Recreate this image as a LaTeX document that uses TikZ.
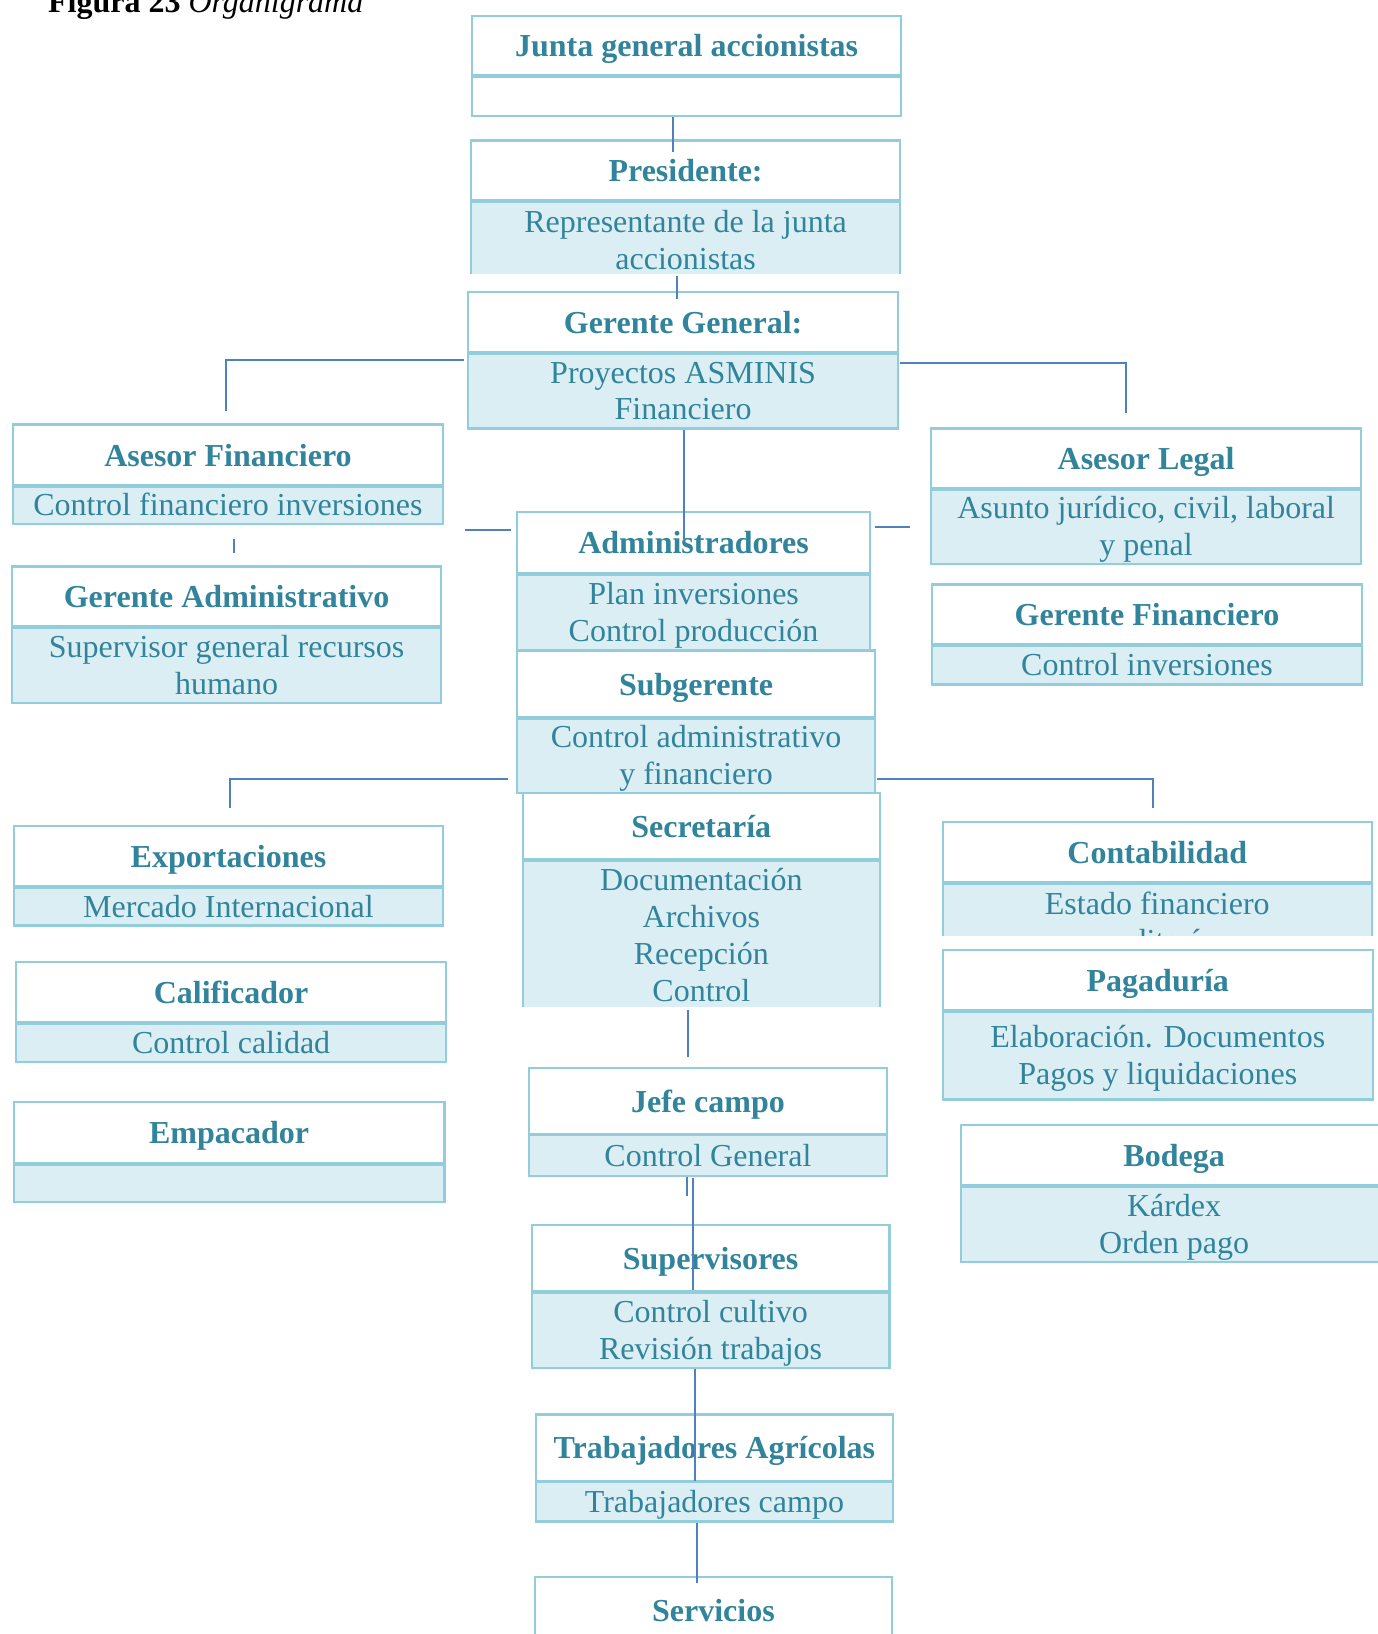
\documentclass[tikz,border=0pt]{standalone}
\usepackage{fontspec}
\setmainfont{Liberation Serif}
\usepackage{tikz}
\usetikzlibrary{positioning}

\definecolor{texto}{HTML}{31849B}
\definecolor{borde}{HTML}{92CDDC}
\definecolor{claro}{HTML}{DAEEF3}
\definecolor{linea}{HTML}{4F81BD}
\newcommand{\letra}{\fontsize{16}{18.4}\selectfont}
\newcommand{\alto}{\rule{0pt}{15.3pt}}
\newcommand{\bajo}{\rule[-4pt]{0pt}{4pt}}

\begin{document}
\begin{tikzpicture}[x=0.5pt, y=-0.5pt, font=\letra,
    cabeza/.style={draw=borde, line width=1.1pt, fill=white, inner sep=0pt, anchor=north west,
        align=center, text=texto, font=\letra\bfseries},
    cuerpo/.style={draw=borde, line width=1.1pt, inner sep=0pt, anchor=north west,
        align=center, text=texto},
    enlace/.style={draw=linea, line width=1pt}]
    \useasboundingbox (0,0) rectangle (1377,1634);
    \node[anchor=base west] (titulo) at (41,12.7) {\textbf{Figura 23} \textit{Organigrama}};
    % cargos: nombre/x1/x2/arriba/division/abajo/corte/relleno/titulo/funciones
    \foreach \nm/\xa/\xb/\ya/\yb/\yc/\yd/\f/\h/\b in {
        junta/471/900/14.6/74/115/120/white/{Junta general accionistas}/{},
        pres/470/899/139.3/199.3/278/273.3/claro/{Presidente:}/{Representante de la junta\\accionistas},
        gg/467/897/291/350.7/427.3/432/claro/{Gerente General:}/{Proyectos ASMINIS\\Financiero},
        asfin/11.7/442/423.3/484/522.7/528/claro/{Asesor Financiero}/{Control financiero inversiones},
        gadm/11/440/565.3/625/701.7/707/claro/{Gerente Administrativo}/{Supervisor general recursos\\humano},
        aslegal/930/1360/427.3/486.7/562.7/568/claro/{Asesor Legal}/{Asunto jurídico, civil, laboral\\y penal},
        gfin/930.7/1361/583.3/643.3/683.3/688/claro/{Gerente Financiero}/{Control inversiones},
        adm/516/869/510.7/572.3/649.3/654/claro/{Administradores}/{Plan inversiones\\Control producción},
        subg/516/874/649.3/716/791.7/796/claro/{Subgerente}/{Control administrativo\\y financiero},
        secr/521.7/878.7/791.7/857.7/1009.3/1006.7/claro/{Secretaría}/{Documentación\\Archivos\\Recepción\\Control},
        export/12.7/442/825/885/924.3/930/claro/{Exportaciones}/{Mercado Internacional},
        calif/15/445/961/1021/1060.7/1066/claro/{Calificador}/{Control calidad},
        empac/12.7/443.3/1101/1161.7/1200.7/1206/claro/{Empacador}/{},
        conta/941.7/1370.7/821/881/960/935.3/claro/{Contabilidad}/{Estado financiero\\auditoría},
        pagad/941.7/1371.7/949/1009.3/1098.3/1104/claro/{Pagaduría}/{Elaboración. Documentos\\Pagos y liquidaciones},
        bodega/960/1386/1124/1184/1260.7/1266/claro/{Bodega}/{Kárdex\\Orden pago},
        jefe/527.7/886/1066.7/1132.6/1174.7/1180/claro/{Jefe campo}/{Control General},
        superv/530.7/888.3/1223.6/1290.3/1366.8/1372/claro/{Supervisores}/{Control cultivo\\Revisión trabajos},
        trab/535/891.7/1413.3/1479.6/1520.4/1526/claro/{Trabajadores Agrícolas}/{Trabajadores campo}} {
        \begin{scope}
            \clip (\xa-5,\ya-5) rectangle (\xb+5,\yd);
            \node[cabeza, minimum width={(\xb-\xa)*0.5pt}, minimum height={(\yb-\ya)*0.5pt}] (\nm-h) at (\xa,\ya) {\alto\h\bajo};
            \node[cuerpo, fill=\f, minimum width={(\xb-\xa)*0.5pt}, minimum height={(\yc-\yb)*0.5pt}] (\nm-b) at (\xa,\yb) {\alto\b\bajo};
            \draw[borde, line width=1.6pt] (\nm-h.south west) -- (\nm-h.south east);
        \end{scope}
    }
    \node[cabeza, minimum width=178.35pt, minimum height=33pt] (serv-h) at (534,1576.2) {\alto Servicios\bajo};

    % lineas
    \draw[enlace] ([xshift=-7pt]junta-b.south) -- ++(0,34.5);
    \draw[enlace] ([xshift=-4.25pt,yshift=2pt]pres-b.south) -- ++(0,22.7);
    \draw[enlace] ([xshift=-1.5pt,yshift=-4.65pt]gg-b.north west) -| ([xshift=-1pt,yshift=6pt]asfin-h.north);
    \draw[enlace] ([xshift=0.5pt,yshift=-6.15pt]gg-b.north east) -| ([xshift=-10pt,yshift=7.15pt]aslegal-h.north);
    \draw[enlace] ([xshift=0.5pt]gg-b.south) -- ++(0,109.7);
    \draw[enlace] ([xshift=2.9pt,yshift=-7pt]asfin-b.south) -- ++(0,14.3);
    \draw[enlace] ([xshift=-2.5pt,yshift=6.25pt]adm-h.west) -- ++(-46,0);
    \draw[enlace] ([xshift=2pt,yshift=7.75pt]adm-h.east) -- ++(35,0);
    \draw[enlace] ([xshift=-4pt,yshift=-12.1pt]subg-b.west) -| ([xshift=0.8pt,yshift=8.5pt]export-h.north);
    \draw[enlace] ([xshift=0.5pt,yshift=-12.1pt]subg-b.east) -| ([xshift=-2.1pt,yshift=6.5pt]conta-h.north);
    \draw[enlace] ([xshift=-10.1pt,yshift=5pt]jefe-h.north) -- ++(0,-46.7);
    \draw[enlace] ([xshift=-10.6pt]jefe-b.south) -- ++(0,18.6);
    \draw[enlace] ([xshift=-7.3pt,yshift=-0.65pt]jefe-b.south) -- ++(0,112);
    \draw[enlace] ([xshift=-7.75pt]superv-b.south) -- ++(0,111.6);
    \draw[enlace] ([xshift=-8.8pt]trab-b.south) -- ++(0,60.6);
\end{tikzpicture}
\end{document}
